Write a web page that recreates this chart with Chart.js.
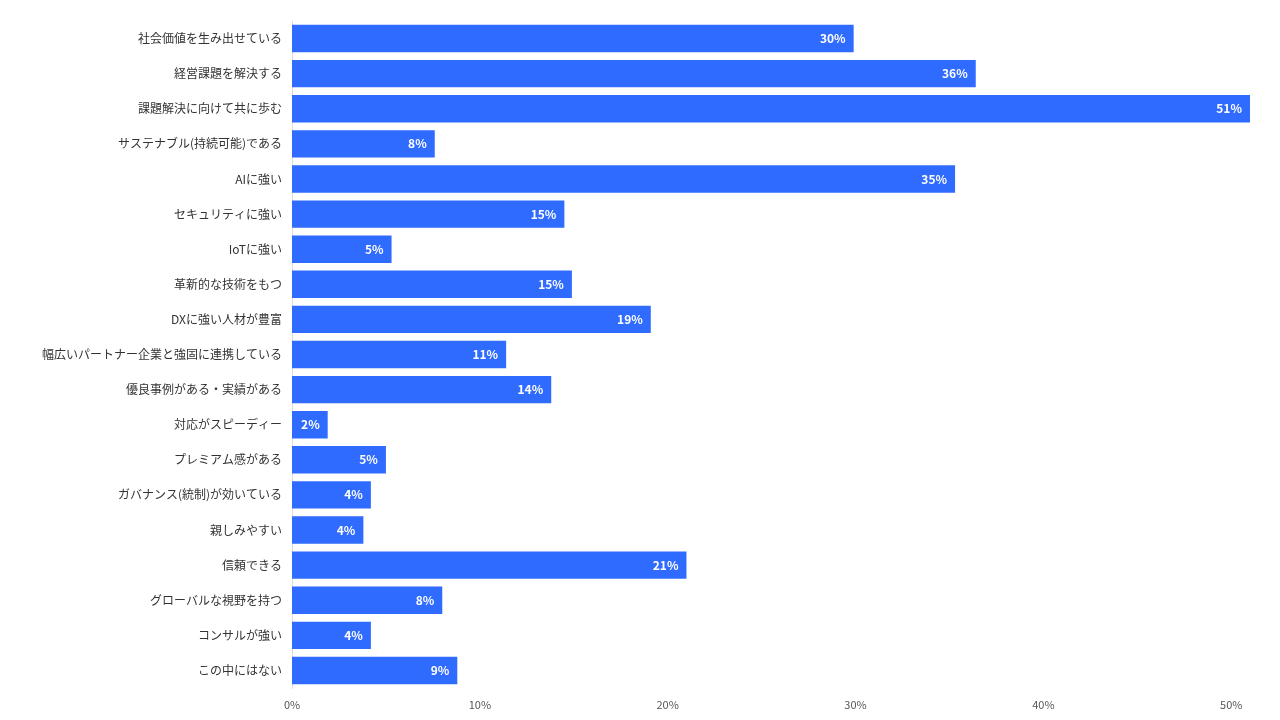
<!DOCTYPE html>
<html lang="ja">
<head>
<meta charset="utf-8">
<script src="https://cdn.jsdelivr.net/npm/chart.js@4/dist/chart.umd.min.js"></script>
<style>
    html, body { margin: 0; padding: 0; background: #fff; }
    #wrap { width: 1280px; height: 720px; position: relative; }
</style>
</head>
<body>
<div id="wrap"><canvas id="imageChart"></canvas></div>
<script>
const categories = [
    '社会価値を生み出せている',
    '経営課題を解決する',
    '課題解決に向けて共に歩む',
    'サステナブル(持続可能)である',
    'AIに強い',
    'セキュリティに強い',
    'IoTに強い',
    '革新的な技術をもつ',
    'DXに強い人材が豊富',
    '幅広いパートナー企業と強固に連携している',
    '優良事例がある・実績がある',
    '対応がスピーディー',
    'プレミアム感がある',
    'ガバナンス(統制)が効いている',
    '親しみやすい',
    '信頼できる',
    'グローバルな視野を持つ',
    'コンサルが強い',
    'この中にはない'
];
const shares = [29.9, 36.4, 51.0, 7.6, 35.3, 14.5, 5.3, 14.9, 19.1, 11.4, 13.8, 1.9, 5.0, 4.2, 3.8, 21.0, 8.0, 4.2, 8.8];
const xTicks = [0, 10, 20, 30, 40, 50];

const FONT = '"Noto Sans CJK JP", "Noto Sans", sans-serif';

// white value text at the end of each bar
const valueLabels = {
    id: 'valueLabels',
    afterDatasetsDraw(chart) {
        const ctx = chart.ctx;
        const meta = chart.getDatasetMeta(0);
        ctx.save();
        ctx.font = 'bold 12px ' + FONT;
        ctx.fillStyle = '#ffffff';
        ctx.textAlign = 'right';
        ctx.textBaseline = 'middle';
        meta.data.forEach(function(bar, i) {
            ctx.fillText(Math.round(shares[i]) + '%', bar.x - 8, bar.y);
        });
        ctx.restore();
    }
};

document.addEventListener('DOMContentLoaded', function() {
    const ctx = document.getElementById('imageChart').getContext('2d');

    new Chart(ctx, {
        type: 'bar',
        data: {
            labels: categories,
            datasets: [{
                data: shares,
                backgroundColor: '#2f6bff',
                borderWidth: 0,
                categoryPercentage: 1,
                barPercentage: 0.78
            }]
        },
        options: {
            indexAxis: 'y',
            responsive: true,
            maintainAspectRatio: false,
            animation: false,
            layout: {
                padding: { top: 21, right: 30, left: 0, bottom: 0 }
            },
            plugins: {
                legend: { display: false },
                tooltip: { enabled: false }
            },
            scales: {
                x: {
                    min: 0,
                    max: 51,
                    grid: { display: false },
                    border: { display: false },
                    afterBuildTicks: function(axis) {
                        axis.ticks = xTicks.map(function(v) { return { value: v }; });
                    },
                    afterFit: function(axis) { axis.height = 32; },
                    ticks: {
                        color: '#555',
                        padding: 2,
                        font: { family: FONT, size: 11 },
                        callback: function(v) { return v + '%'; }
                    }
                },
                y: {
                    grid: { display: false, drawTicks: false },
                    border: { display: true, color: '#dcdcdc' },
                    afterFit: function(axis) { axis.width = 292; },
                    ticks: {
                        color: '#333',
                        padding: 10,
                        font: { family: FONT, size: 12 }
                    }
                }
            }
        },
        plugins: [valueLabels]
    });
});
</script>
</body>
</html>
